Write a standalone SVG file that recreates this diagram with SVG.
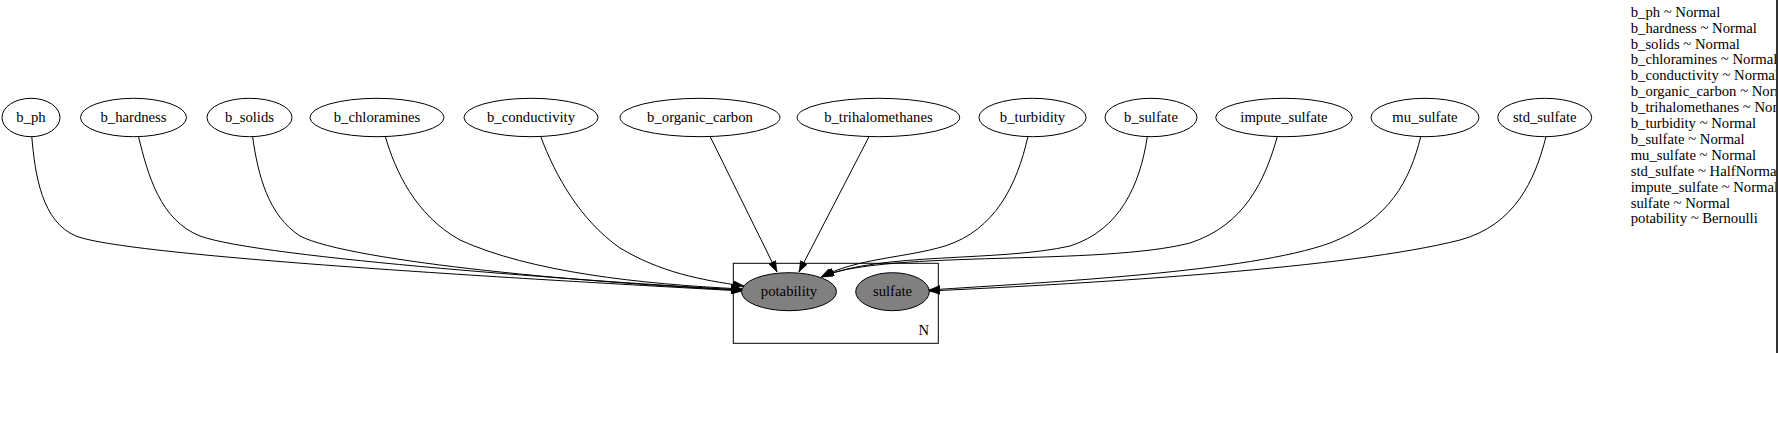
<svg xmlns="http://www.w3.org/2000/svg" width="1778" height="432" viewBox="0 0 1778 432">
<style>
text{font-family:"Liberation Serif","Times New Roman",serif;font-size:14.7px;fill:#000}
.n ellipse{fill:#fff;stroke:#000;stroke-width:1}
.o ellipse{fill:#808080;stroke:#000;stroke-width:1}
.n text,.o text{text-anchor:middle}
.e path{fill:none;stroke:#000;stroke-width:1;marker-end:url(#ah)}
</style>
<defs>
<marker id="ah" markerUnits="userSpaceOnUse" markerWidth="11" markerHeight="8" viewBox="0 0 10.5 7.4" refX="10.5" refY="3.7" orient="auto">
<path d="M0,0 L10.5,3.7 L0,7.4 z" fill="#000" stroke="#000" stroke-width="0.5"/>
</marker>
<clipPath id="lc"><rect x="1600" y="0" width="176" height="432"/></clipPath>
</defs>
<rect width="1778" height="432" fill="#fff"/>
<g id="plate_N">
<rect x="733.3" y="263.3" width="205" height="80" fill="none" stroke="#000" stroke-width="1"/>
<text x="929" y="335" text-anchor="end">N</text>
</g>
<g id="connectors" class="e">
<path d="M31.8,136.7 C35,175 42,222 76,236 C130,258 600,283 742,291"/>
<path d="M138.5,136.7 C148,175 160,220 200,236 C260,258 600,282 742,290"/>
<path d="M252.6,136.7 C258,175 268,215 300,236 C350,262 600,284 742,290"/>
<path d="M385.4,136.7 C395,170 415,215 460,240 C530,272 640,284 742,289"/>
<path d="M540.8,136.7 C555,175 580,220 620,248 C660,272 700,280 744,286"/>
<path d="M710.2,136.7 L777,272"/>
<path d="M869,136.7 L799,272"/>
<path d="M1027.9,136.7 C1017,185 995,230 945,246 C905,258 858,258 821,277"/>
<path d="M1147.3,136.7 C1140,185 1120,230 1070,246 C1000,262 880,252 822,277"/>
<path d="M1277.3,136.7 C1265,180 1245,225 1190,243 C1100,266 890,250 823,276"/>
<path d="M1420.7,136.7 C1410,180 1390,220 1330,243 C1250,272 1050,282 929,290"/>
<path d="M1546,136.7 C1535,180 1515,225 1460,240 C1350,268 1100,283 929,291"/>
</g>
<g id="b_ph" class="n"><ellipse cx="31" cy="117.5" rx="29" ry="19.2"/><text x="31" y="121.8">b_ph</text></g>
<g id="b_hardness" class="n"><ellipse cx="133.5" cy="117.5" rx="53" ry="19.2"/><text x="133.5" y="121.8">b_hardness</text></g>
<g id="b_solids" class="n"><ellipse cx="249.5" cy="117.5" rx="42.5" ry="19.2"/><text x="249.5" y="121.8">b_solids</text></g>
<g id="b_chloramines" class="n"><ellipse cx="377" cy="117.5" rx="67" ry="19.2"/><text x="377" y="121.8">b_chloramines</text></g>
<g id="b_conductivity" class="n"><ellipse cx="531" cy="117.5" rx="67" ry="19.2"/><text x="531" y="121.8">b_conductivity</text></g>
<g id="b_organic_carbon" class="n"><ellipse cx="700" cy="117.5" rx="80" ry="19.2"/><text x="700" y="121.8">b_organic_carbon</text></g>
<g id="b_trihalomethanes" class="n"><ellipse cx="878.4" cy="117.5" rx="81.3" ry="19.2"/><text x="878.4" y="121.8">b_trihalomethanes</text></g>
<g id="b_turbidity" class="n"><ellipse cx="1032.5" cy="117.5" rx="53.6" ry="19.2"/><text x="1032.5" y="121.8">b_turbidity</text></g>
<g id="b_sulfate" class="n"><ellipse cx="1151" cy="117.5" rx="46" ry="19.2"/><text x="1151" y="121.8">b_sulfate</text></g>
<g id="impute_sulfate" class="n"><ellipse cx="1284" cy="117.5" rx="68.3" ry="19.2"/><text x="1284" y="121.8">impute_sulfate</text></g>
<g id="mu_sulfate" class="n"><ellipse cx="1425" cy="117.5" rx="54" ry="19.2"/><text x="1425" y="121.8">mu_sulfate</text></g>
<g id="std_sulfate" class="n"><ellipse cx="1544.7" cy="117.5" rx="47" ry="19.2"/><text x="1544.7" y="121.8">std_sulfate</text></g>
<g id="potability" class="o"><ellipse cx="789" cy="291.7" rx="47.5" ry="19"/><text x="789" y="296">potability</text></g>
<g id="sulfate" class="o"><ellipse cx="892.5" cy="291.7" rx="36.8" ry="19"/><text x="892.5" y="296">sulfate</text></g>
<g id="legend" clip-path="url(#lc)">
<text x="1630.7" y="16.7">b_ph ~ Normal</text>
<text x="1630.7" y="32.6">b_hardness ~ Normal</text>
<text x="1630.7" y="48.5">b_solids ~ Normal</text>
<text x="1630.7" y="64.4">b_chloramines ~ Normal</text>
<text x="1630.7" y="80.3">b_conductivity ~ Normal</text>
<text x="1630.7" y="96.2">b_organic_carbon ~ Normal</text>
<text x="1630.7" y="112.1">b_trihalomethanes ~ Normal</text>
<text x="1630.7" y="128">b_turbidity ~ Normal</text>
<text x="1630.7" y="143.9">b_sulfate ~ Normal</text>
<text x="1630.7" y="159.8">mu_sulfate ~ Normal</text>
<text x="1630.7" y="175.7">std_sulfate ~ HalfNormal</text>
<text x="1630.7" y="191.6">impute_sulfate ~ Normal</text>
<text x="1630.7" y="207.5">sulfate ~ Normal</text>
<text x="1630.7" y="223.4">potability ~ Bernoulli</text>
</g>
<line x1="1777" y1="0" x2="1777" y2="353" stroke="#333" stroke-width="2"/>
</svg>
